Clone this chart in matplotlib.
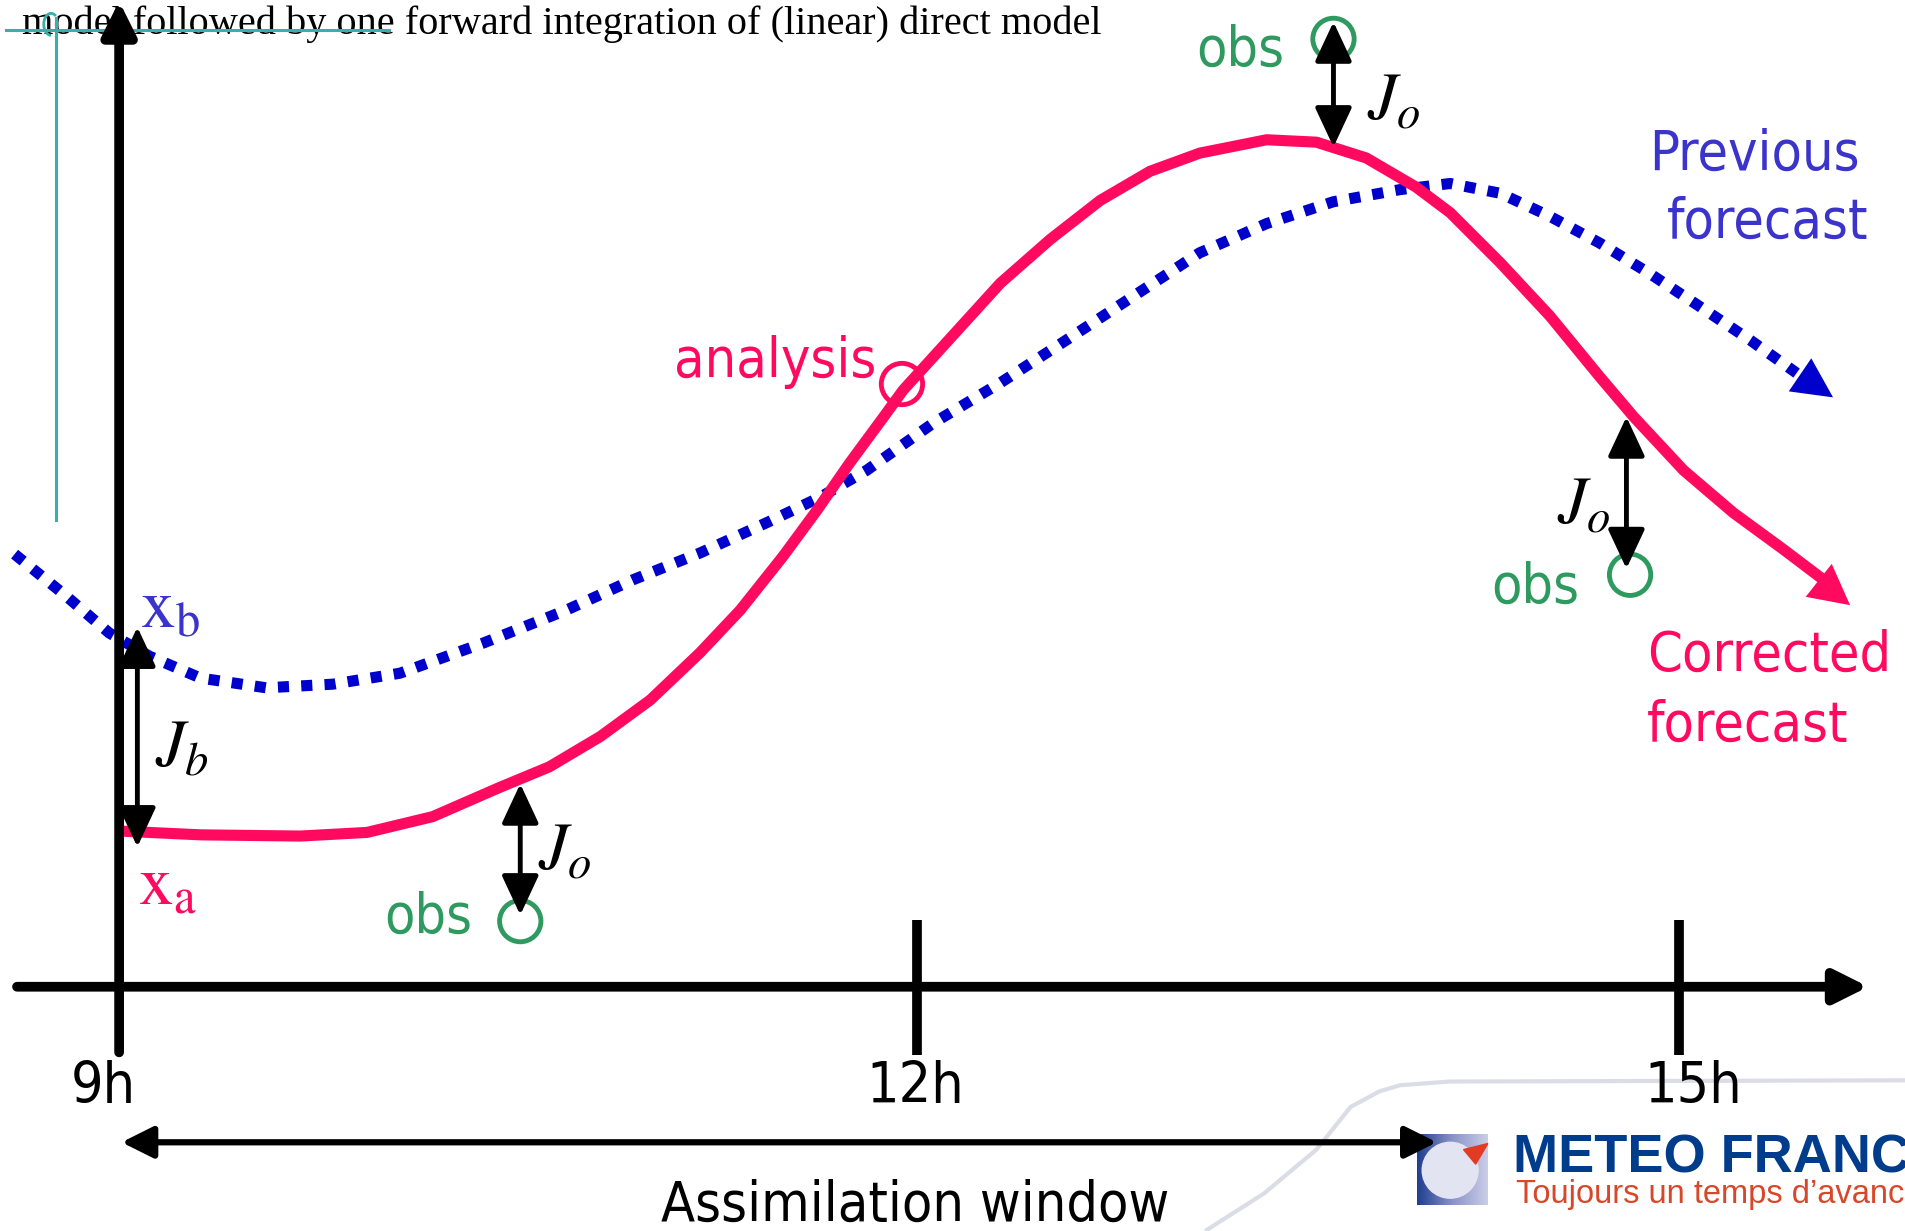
import numpy as np
import matplotlib.pyplot as plt
from matplotlib.patches import Circle, Polygon, Arc
from matplotlib.colors import LinearSegmentedColormap

# points (x to the right, y downwards, 1568 x 1013 frame)
prev_x = [12, 55, 90, 123, 165, 219, 274, 329, 398, 466, 521, 576, 631, 675, 713, 768, 823,
          877, 932, 987, 1042, 1097, 1152, 1193, 1234, 1275, 1316, 1357, 1398, 1440, 1478]
prev_y = [456, 491, 521, 540, 558, 566, 563, 554, 529, 502, 477, 455, 430, 409, 387, 348, 315,
          280, 244, 208, 184, 166, 156, 151, 159, 178, 200, 225, 252, 280, 307]
prev_tip = (1508, 327)

corr_x = [101, 165, 247, 302, 356, 411, 452, 494, 535, 576, 609, 644, 672, 699, 727, 743, 773,
          823, 864, 905, 946, 987, 1042, 1083, 1124, 1165, 1193, 1234, 1275, 1316, 1344, 1385,
          1426, 1467, 1500]
corr_y = [684, 687, 688, 685, 672, 648, 631, 606, 576, 537, 502, 458, 420, 381, 343, 321, 288,
          233, 197, 165, 141, 126, 115, 117, 130, 154, 175, 216, 260, 310, 343, 387,
          422, 452, 477]
corr_tip = (1522, 498)

obs_x = [428, 1097, 1341]
obs_y = [758, 32, 473]
model_at_obs = [645, 121, 343]
obs_text = [(352, 755), (1020, 42), (1263, 484)]
jo_text = [(465, 700), (1147, 83), (1303, 415)]

analysis_pt = (742, 316)
xb_y, xa_y = 516, 697

ticks_x = [98, 754, 1381]
tick_labels = ["9h", "12h", "15h"]
tick_label_x = [85, 753, 1393]

RED = "#ff0a5f"
BLUE = "#0000cc"
LBLUE = "#3a33cc"
GREEN = "#2e9a5f"
TEAL = "#3aafa9"

plt.rcParams["mathtext.fontset"] = "stix"
sans = dict(family="DejaVu Sans", fontstretch="condensed")

fig = plt.figure(figsize=(19.06, 12.31), dpi=100)
ax = fig.add_axes([0, 0, 1, 1])
ax.set_xlim(0, 1568)
ax.set_ylim(1013, 0)
ax.axis("off")

# header text and teal guides
ax.text(18, 20, "model followed by one forward integration of (linear) direct model",
        family="Liberation Serif", fontsize=29, va="center", ha="left", zorder=1)
ax.plot([5, 320], [25, 25], color=TEAL, lw=2.2, zorder=1)
ax.plot([46, 46], [15, 428], color=TEAL, lw=2.2, zorder=1)
ax.add_patch(Arc((42, 20), 12, 18, theta1=90, theta2=300, color=TEAL, lw=2, zorder=1))

# axes
arr = dict(arrowstyle="-|>,head_length=0.5,head_width=0.25", lw=7, color="black",
           mutation_scale=40, shrinkA=0, shrinkB=0)
ax.annotate("", xy=(98, 1), xytext=(98, 866), arrowprops=arr, zorder=5)
ax.annotate("", xy=(1537, 812), xytext=(14, 812), arrowprops=arr, zorder=5)
for tx in ticks_x[1:]:
    ax.plot([tx, tx], [757, 868], color="black", lw=7, solid_capstyle="butt", zorder=5)
for lx, lab in zip(tick_label_x, tick_labels):
    ax.text(lx, 895, lab, fontsize=41, ha="center", va="center", **sans)

# assimilation window
ax.annotate("", xy=(1182, 940), xytext=(100, 940),
            arrowprops=dict(arrowstyle="<|-|>,head_length=0.6,head_width=0.3", lw=4.5,
                            color="black", mutation_scale=32, shrinkA=0, shrinkB=0), zorder=4)
ax.text(753, 992, "Assimilation window", fontsize=40, ha="center", va="center", **sans)

# previous forecast (dotted) and corrected forecast
ax.plot(prev_x, prev_y, color=BLUE, lw=8, linestyle=(0, (1, 1.1)), dash_capstyle="butt", zorder=3)
ax.annotate("", xy=prev_tip, xytext=(prev_x[-3], prev_y[-3]),
            arrowprops=dict(arrowstyle="-|>,head_length=0.8,head_width=0.4", lw=0,
                            color=BLUE, mutation_scale=36, shrinkA=0, shrinkB=0), zorder=3)
ax.plot(corr_x, corr_y, color=RED, lw=8, solid_capstyle="butt", solid_joinstyle="round", zorder=4)
ax.annotate("", xy=corr_tip, xytext=(corr_x[-3], corr_y[-3]),
            arrowprops=dict(arrowstyle="-|>,head_length=0.8,head_width=0.42", lw=0,
                            color=RED, mutation_scale=36, shrinkA=0, shrinkB=0), zorder=4)

# observations and Jo
dbl = dict(arrowstyle="<|-|>,head_length=0.9,head_width=0.42", lw=3.5, color="black",
           mutation_scale=27, shrinkA=0, shrinkB=0)
for ox, oy, my, (tx, ty), (jx, jy) in zip(obs_x, obs_y, model_at_obs, obs_text, jo_text):
    ax.add_patch(Circle((ox, oy), 17, fill=False, ec=GREEN, lw=3.5, zorder=6))
    ax_x = ox - 3 if ox > 1300 else ox
    ax.annotate("", xy=(ax_x, oy - 5 if oy > my else oy - 14), xytext=(ax_x, my),
                arrowprops=dbl, zorder=7)
    ax.text(tx, ty, "obs", color=GREEN, fontsize=40, ha="center", va="center", **sans)
    ax.text(jx, jy, r"$J_o$", fontsize=48, ha="center", va="center")

# background term
ax.annotate("", xy=(113, xa_y), xytext=(113, xb_y), arrowprops=dbl, zorder=7)
ax.text(150, 615, r"$J_b$", fontsize=48, ha="center", va="center")
ax.text(140, 500, r"$\mathrm{x}_\mathrm{b}$", color=LBLUE, fontsize=50, ha="center", va="center")
ax.text(138, 728, r"$\mathrm{x}_\mathrm{a}$", color=RED, fontsize=50, ha="center", va="center")

# analysis point and labels
ax.add_patch(Circle(analysis_pt, 17, fill=False, ec=RED, lw=3.5, zorder=6))
ax.text(638, 298, "analysis", color=RED, fontsize=40, ha="center", va="center", **sans)
ax.text(1530, 127, "Previous", color=LBLUE, fontsize=40, ha="right", va="center", **sans)
ax.text(1537, 183, "forecast", color=LBLUE, fontsize=40, ha="right", va="center", **sans)
ax.text(1355, 540, "Corrected", color=RED, fontsize=40, ha="left", va="center", **sans)
ax.text(1355, 597, "forecast", color=RED, fontsize=40, ha="left", va="center", **sans)

# logo in the corner
ax.plot([993, 1040, 1083, 1111, 1135, 1152, 1193, 1568],
        [1012, 982, 946, 911, 898, 893, 890, 889], color="#dcdce6", lw=3, zorder=0)
grad = np.linspace(0, 1, 64)[None, :]
ax.imshow(grad, cmap=LinearSegmentedColormap.from_list("mf", ["#1f3f8f", "#8a93c8", "#c9cde6"]),
          extent=(1166, 1224, 992, 934), aspect="auto", zorder=1)
ax.add_patch(Circle((1193, 963), 23, color="#e2e4f1", zorder=2))
ax.add_patch(Polygon([[1204, 946], [1224, 941], [1214, 958]], color="#e23b24", zorder=3))
ax.text(1245, 965, "METEO FRANCE", color="#003c8c", fontsize=39, fontweight="bold",
        family="Liberation Sans", ha="left", va="baseline", zorder=1)
ax.text(1247, 990, "Toujours un temps d\u2019avance", color="#d9472b", fontsize=23.5,
        family="Liberation Sans", ha="left", va="baseline", zorder=1)

fig.savefig("out.png", dpi=100)
